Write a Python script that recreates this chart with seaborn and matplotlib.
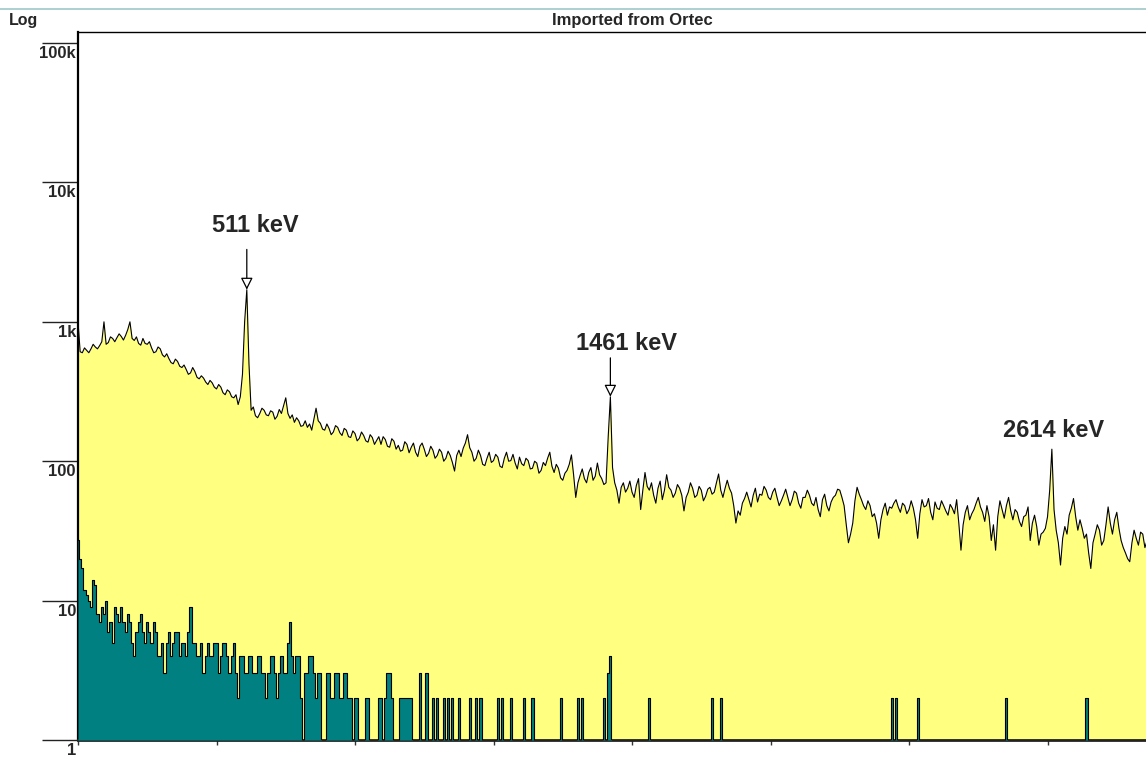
import numpy as np
import pandas as pd
import matplotlib
matplotlib.use("Agg")
import matplotlib.pyplot as plt
from matplotlib.lines import Line2D
from matplotlib.ticker import NullLocator
from matplotlib.transforms import ScaledTranslation
import seaborn as sns

# ---------------- data ----------------
# full spectrum, one value every 4 channels (channel 0 .. 1976)
total_counts = [
    1000, 610, 600, 650, 625, 600, 640, 690, 660, 640, 675, 720, 1000, 690, 710, 780, 760, 720, 770, 820,
    785, 740, 800, 880, 1000, 760, 735, 780, 700, 680, 760, 700, 690, 720, 650, 600, 610, 660, 640, 580,
    560, 590, 545, 510, 500, 540, 520, 480, 470, 490, 455, 420, 430, 470, 440, 400, 390, 410, 395, 370,
    355, 380, 365, 340, 330, 355, 340, 310, 300, 325, 315, 290, 285, 300, 255, 290, 420, 1000, 1700, 500,
    232, 245, 212, 205, 220, 240, 232, 215, 212, 230, 225, 200, 210, 235, 220, 250, 285, 220, 203, 215,
    190, 205, 195, 178, 180, 195, 175, 185, 167, 200, 240, 195, 187, 170, 167, 185, 172, 155, 162, 180,
    175, 160, 153, 172, 167, 150, 148, 165, 158, 140, 146, 162, 153, 140, 137, 155, 148, 132, 141, 150,
    132, 150, 143, 128, 126, 145, 139, 122, 130, 118, 120, 138, 132, 115, 126, 135, 116, 108, 128, 135,
    122, 108, 114, 128, 120, 105, 110, 122, 116, 100, 105, 118, 110, 98, 85, 110, 120, 108, 124, 135,
    155, 125, 116, 100, 105, 120, 110, 95, 93, 105, 116, 98, 101, 112, 107, 92, 90, 105, 116, 100,
    101, 112, 97, 88, 107, 96, 93, 105, 101, 88, 89, 100, 97, 82, 86, 98, 93, 105, 116, 92,
    83, 95, 89, 76, 73, 82, 86, 95, 111, 80, 55, 70, 79, 88, 75, 70, 83, 90, 73, 78,
    97, 80, 75, 68, 70, 150, 290, 90, 70, 62, 50, 65, 70, 60, 64, 72, 60, 55, 67, 75,
    45, 62, 83, 66, 62, 70, 57, 50, 64, 72, 53, 62, 80, 65, 62, 55, 59, 68, 64, 57,
    44, 55, 60, 70, 64, 55, 57, 66, 62, 52, 56, 63, 65, 58, 60, 70, 81, 62, 55, 64,
    73, 64, 59, 48, 36, 44, 41, 50, 54, 60, 53, 47, 57, 64, 51, 58, 57, 66, 62, 55,
    53, 60, 64, 55, 48, 52, 57, 63, 55, 48, 53, 61, 59, 50, 46, 55, 55, 62, 57, 50,
    48, 55, 45, 40, 53, 58, 48, 44, 51, 55, 57, 63, 62, 55, 48, 35, 26, 30, 36, 52,
    65, 58, 53, 48, 45, 52, 48, 40, 42, 36, 28, 38, 45, 50, 41, 47, 46, 50, 53, 47,
    43, 50, 48, 42, 45, 52, 46, 38, 28, 42, 53, 47, 48, 54, 43, 38, 51, 46, 45, 52,
    48, 44, 41, 49, 46, 42, 53, 36, 23, 35, 43, 48, 38, 42, 45, 50, 55, 47, 43, 37,
    48, 40, 27, 35, 23, 40, 52, 45, 39, 48, 55, 44, 38, 45, 43, 37, 34, 40, 41, 47,
    27, 36, 41, 34, 25, 30, 31, 33, 40, 62, 122, 45, 32, 26, 18, 28, 34, 30, 41, 46,
    54, 40, 32, 38, 33, 28, 30, 22, 17, 26, 30, 35, 32, 25, 27, 35, 47, 36, 30, 38,
    43, 33, 27, 24, 22, 20, 19, 26, 32, 28, 25, 31, 30, 24, 27,
]

# low-count spectrum, one value every 4 channels (channel 0 .. 1976)
low_counts = [
    27, 20, 17, 12, 11, 10, 9, 14, 13, 8, 7, 9, 8, 10, 6, 7, 5, 9, 8, 7,
    9, 7, 6, 8, 7, 5, 4, 6, 7, 8, 6, 5, 7, 6, 5, 7, 6, 4, 4, 5,
    3, 5, 6, 4, 5, 6, 6, 4, 5, 5, 4, 6, 9, 5, 5, 4, 4, 5, 3, 4,
    5, 4, 4, 5, 5, 3, 4, 5, 5, 4, 3, 4, 5, 3, 2, 4, 4, 3, 3, 4,
    4, 3, 3, 4, 4, 3, 3, 2, 3, 4, 4, 3, 2, 3, 4, 3, 3, 5, 7, 4,
    3, 4, 4, 2, 1, 3, 3, 4, 4, 3, 2, 3, 3, 1, 1, 3, 3, 2, 2, 3,
    3, 2, 2, 3, 3, 2, 2, 1, 2, 2, 1, 1, 1, 2, 2, 1, 1, 1, 1, 2,
    2, 1, 2, 3, 3, 2, 1, 1, 1, 2, 2, 2, 2, 2, 2, 1, 1, 1, 3, 1,
    1, 3, 1, 1, 2, 1, 2, 1, 1, 2, 1, 2, 1, 2, 1, 1, 2, 1, 1, 1,
    1, 2, 1, 1, 2, 1, 2, 1, 1, 1, 1, 1, 1, 1, 2, 1, 2, 1, 1, 1,
    2, 1, 1, 1, 1, 1, 2, 1, 1, 1, 2, 1, 1, 1, 1, 1, 1, 1, 1, 1,
    1, 1, 1, 2, 1, 1, 1, 1, 1, 1, 1, 2, 1, 2, 1, 1, 1, 1, 1, 1,
    1, 1, 1, 2, 1, 3, 4, 1, 1, 1, 1, 1, 1, 1, 1, 1, 1, 1, 1, 1,
    1, 1, 1, 1, 2, 1, 1, 1, 1, 1, 1, 1, 1, 1, 1, 1, 1, 1, 1, 1,
    1, 1, 1, 1, 1, 1, 1, 1, 1, 1, 1, 1, 1, 2, 1, 1, 1, 2, 1, 1,
    1, 1, 1, 1, 1, 1, 1, 1, 1, 1, 1, 1, 1, 1, 1, 1, 1, 1, 1, 1,
    1, 1, 1, 1, 1, 1, 1, 1, 1, 1, 1, 1, 1, 1, 1, 1, 1, 1, 1, 1,
    1, 1, 1, 1, 1, 1, 1, 1, 1, 1, 1, 1, 1, 1, 1, 1, 1, 1, 1, 1,
    1, 1, 1, 1, 1, 1, 1, 1, 1, 1, 1, 1, 1, 1, 1, 1, 2, 1, 2, 1,
    1, 1, 1, 1, 1, 1, 1, 1, 2, 1, 1, 1, 1, 1, 1, 1, 1, 1, 1, 1,
    1, 1, 1, 1, 1, 1, 1, 1, 1, 1, 1, 1, 1, 1, 1, 1, 1, 1, 1, 1,
    1, 1, 1, 1, 1, 1, 1, 1, 1, 2, 1, 1, 1, 1, 1, 1, 1, 1, 1, 1,
    1, 1, 1, 1, 1, 1, 1, 1, 1, 1, 1, 1, 1, 1, 1, 1, 1, 1, 1, 1,
    1, 1, 1, 1, 1, 1, 2, 1, 1, 1, 1, 1, 1, 1, 1, 1, 1, 1, 1, 1,
    1, 1, 1, 1, 1, 1, 1, 1, 1, 1, 1, 1, 1, 1, 1,
]

channels = np.arange(len(total_counts)) * 4
assert len(total_counts) == 495 and len(low_counts) == 495

peak_labels = ["511 keV", "1461 keV", "2614 keV"]
peak_channels = [312, 984, 1800]

ytick_values = [1, 10, 100, 1000, 10000, 100000]
ytick_labels = ["1", "10", "100", "1k", "10k", "100k"]
xtick_values = [0, 256, 512, 768, 1024, 1280, 1536, 1792]

title_text = "Imported from Ortec"
scale_text = "Log"

# ---------------- styling ----------------
sns.set_style("white")
plt.rcParams["font.family"] = ["Liberation Sans", "DejaVu Sans"]

YELLOW = "#ffff80"
TEAL = "#008080"

df = pd.DataFrame({"channel": channels, "total": total_counts, "low": low_counts})

W, H = 1146, 757
fig = plt.figure(figsize=(W / 100, H / 100), dpi=100)
fig.patch.set_facecolor("white")
ax = fig.add_axes([78 / W, 17 / H, (W - 78) / W, (740 - 32) / H])
ax.set_facecolor("white")

# spectra
ax.fill_between(df["channel"], 1, df["total"], color=YELLOW, lw=0, zorder=1)
sns.lineplot(data=df, x="channel", y="total", color="black",
             lw=0.8, estimator=None, ax=ax, zorder=2)
ax.fill_between(df["channel"], 1, df["low"], step="mid", color=TEAL, lw=0, zorder=3)
sns.lineplot(data=df, x="channel", y="low", drawstyle="steps-mid", color="black",
             lw=0.8, estimator=None, ax=ax, zorder=4)

ax.set_yscale("log")
ax.set_xlim(0, 1974)
ax.set_ylim(1, 1.2e5)

ax.set_yticks(ytick_values)
ax.set_yticklabels(ytick_labels)
ax.yaxis.set_minor_locator(NullLocator())
ax.set_xticks(xtick_values)
ax.set_xticklabels([])
ax.xaxis.set_minor_locator(NullLocator())
ax.set_xlabel("")
ax.set_ylabel("")

ax.tick_params(axis="y", which="major", left=True, direction="out", length=26,
               width=1.0, color="#222222", pad=-24.5, labelsize=12)
shift = ScaledTranslation(0, -3 / 100, fig.dpi_scale_trans)
for tick in ax.yaxis.get_major_ticks():
    tick.label1.set_fontweight("bold")
    tick.label1.set_verticalalignment("top")
    tick.label1.set_transform(tick.label1.get_transform() + shift)
ax.tick_params(axis="x", which="major", bottom=True, direction="out", length=3.5,
               width=1.0, color="#333333")

for side in ["top", "left", "bottom"]:
    ax.spines[side].set_visible(True)
    ax.spines[side].set_color("black")
ax.spines["top"].set_linewidth(1.0)
ax.spines["left"].set_linewidth(1.6)
ax.spines["bottom"].set_linewidth(2.0)
ax.spines["bottom"].set_color("#222222")
ax.spines["right"].set_visible(False)

# peak annotations
arrow_offsets = [29, 28, None]
text_offsets = [(-25, 46.5), (-25, 38), (-35, 13.7)]
for label, ch, arr, (dx, dy) in zip(peak_labels, peak_channels, arrow_offsets, text_offsets):
    cnt = float(df.loc[df["channel"] == ch, "total"].iloc[0])
    if arr is not None:
        ax.annotate("", xy=(ch, cnt), xytext=(0, arr), textcoords="offset points",
                    arrowprops=dict(arrowstyle="-|>,head_length=0.72,head_width=0.36",
                                    fc="white", ec="black", lw=0.9,
                                    shrinkA=0, shrinkB=0, mutation_scale=10),
                    zorder=6)
    ax.annotate(label, xy=(ch, cnt), xytext=(dx, dy), textcoords="offset points",
                ha="left", va="center", fontsize=17, fontweight="bold", zorder=7)

# header texts and separator
fig.text(632 / W, 1 - 20 / H, title_text, ha="center", va="center",
         fontsize=12, fontweight="bold")
fig.text(9 / W, 1 - 20 / H, scale_text, ha="left", va="center",
         fontsize=11.5, fontweight="bold")
fig.add_artist(Line2D([0, 1], [1 - 9 / H, 1 - 9 / H], color="#9fc7c7", lw=1.2))

fig.savefig("out.png", dpi=100)
